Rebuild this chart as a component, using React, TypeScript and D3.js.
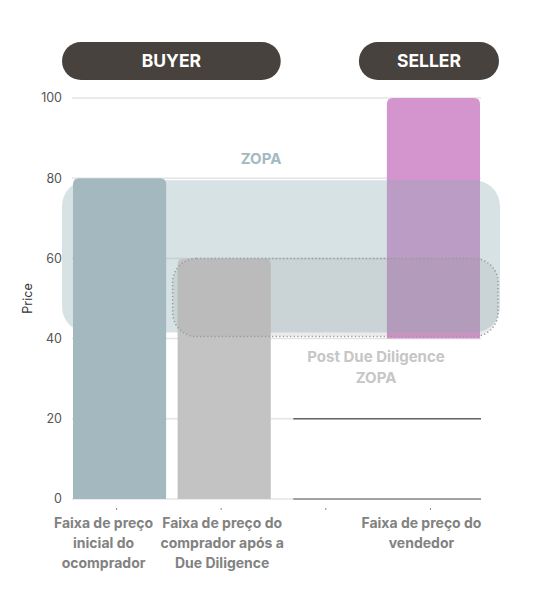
import React, { useEffect, useRef } from 'react';
import * as d3 from 'd3';

// category keys and their wrapped labels
const categories = ['inicial', 'apos', 'vazio', 'vendedor'];
const categoryLines = [
  ['Faixa de preço', 'inicial do', 'ocomprador'],
  ['Faixa de preço do', 'comprador após a', 'Due Diligence'],
  [],
  ['Faixa de preço do', 'vendedor'],
];
const labelShift = [-16, -2, 0, -12];

// floating price ranges (low, high)
const lows = [0, 0, null, 40];
const highs = [80, 60, null, 100];
const barColors = ['#a3b9bf', '#c3c3c3', 'none', '#d494ce'];

const yTicks = [0, 20, 40, 60, 80, 100];

// negotiation zones
const zopa = [42, 80];
const postZopa = [40, 60];

const groups = ['BUYER', 'SELLER'];

const W = 536;
const H = 603;

const App: React.FC = () => {
  const svgRef = useRef<SVGSVGElement>(null);

  useEffect(() => {
    if (!svgRef.current) return;
    const svg = d3.select(svgRef.current);
    svg.selectAll('*').remove();

    const x = d3.scaleBand<string>().domain(categories).range([73, 480]).paddingInner(0.11).paddingOuter(0);
    const y = d3.scaleLinear().domain([0, 100]).range([499, 98]);
    const bw = x.bandwidth();
    const font = 'Inter, "Noto Sans", sans-serif';

    // gridlines
    svg.append('g')
      .selectAll('line')
      .data(yTicks)
      .enter()
      .append('line')
      .attr('x1', 72)
      .attr('x2', 481)
      .attr('y1', d => y(d))
      .attr('y2', d => y(d))
      .attr('stroke', '#e4e4e4')
      .attr('stroke-width', 1.5);

    // dark baseline segments under the empty / seller columns
    svg.append('g')
      .selectAll('line')
      .data([0, 20])
      .enter()
      .append('line')
      .attr('x1', (x('vazio') as number) + 11)
      .attr('x2', (x('vendedor') as number) + bw + 1)
      .attr('y1', d => y(d))
      .attr('y2', d => y(d))
      .attr('stroke', (d, i) => (i === 0 ? '#8a8a8a' : '#666'))
      .attr('stroke-width', 1.5);

    // y tick labels
    svg.append('g')
      .selectAll('text')
      .data(yTicks)
      .enter()
      .append('text')
      .attr('x', 62)
      .attr('y', d => y(d))
      .attr('dy', '0.35em')
      .attr('text-anchor', 'end')
      .attr('fill', '#555')
      .style('font-family', font)
      .style('font-size', '12.5px')
      .text(d => d);

    svg.append('text')
      .attr('transform', `translate(32, ${y(50)}) rotate(-90)`)
      .attr('text-anchor', 'middle')
      .attr('fill', '#333')
      .style('font-family', font)
      .style('font-size', '12.5px')
      .text('Price');

    // bar path with rounded top corners
    const r = 6;
    const barPath = (i: number) => {
      const x0 = x(categories[i]) as number;
      const x1 = x0 + bw;
      const yt = y(highs[i] as number);
      const yb = y(lows[i] as number);
      return `M${x0},${yb}V${yt + r}Q${x0},${yt} ${x0 + r},${yt}H${x1 - r}Q${x1},${yt} ${x1},${yt + r}V${yb}Z`;
    };

    const drawBar = (i: number) => {
      svg.append('path').attr('d', barPath(i)).attr('fill', barColors[i]);
    };

    // seller bar sits under the ZOPA band
    drawBar(3);

    const zx0 = (x('inicial') as number) - 11;
    const zx1 = (x('vendedor') as number) + bw + 20;
    svg.append('rect')
      .attr('x', zx0)
      .attr('y', y(zopa[1]) + 2)
      .attr('width', zx1 - zx0)
      .attr('height', y(zopa[0]) - y(zopa[1]))
      .attr('rx', 26)
      .attr('fill', '#8aacb2')
      .attr('fill-opacity', 0.35);

    drawBar(0);
    drawBar(1);

    // post due diligence ZOPA (dotted)
    const px0 = (x('apos') as number) - 5;
    const px1 = (x('vendedor') as number) + bw + 18;
    svg.append('rect')
      .attr('x', px0)
      .attr('y', y(postZopa[1]))
      .attr('width', px1 - px0)
      .attr('height', y(postZopa[0]) - y(postZopa[1]) - 2)
      .attr('rx', 24)
      .attr('fill', '#999')
      .attr('fill-opacity', 0.2)
      .attr('stroke', '#999')
      .attr('stroke-width', 1.5)
      .attr('stroke-dasharray', '1.2,2.4');

    // zone labels
    svg.append('text')
      .attr('x', 261)
      .attr('y', y(zopa[1]) - 14)
      .attr('text-anchor', 'middle')
      .attr('fill', '#a3b9bf')
      .style('font-family', font)
      .style('font-size', '15px')
      .style('font-weight', 700)
      .text('ZOPA');

    const pdd = svg.append('text')
      .attr('x', 376)
      .attr('y', y(postZopa[0]) + 23)
      .attr('text-anchor', 'middle')
      .attr('fill', '#c6c6c6')
      .style('font-family', font)
      .style('font-size', '15px')
      .style('font-weight', 700);
    pdd.append('tspan').attr('x', 376).text('Post Due Diligence');
    pdd.append('tspan').attr('x', 376).attr('dy', 21).text('ZOPA');

    // x tick marks
    svg.append('g')
      .selectAll('line')
      .data(categories)
      .enter()
      .append('line')
      .attr('x1', d => (x(d) as number) + bw / 2 - 3)
      .attr('x2', d => (x(d) as number) + bw / 2 - 3)
      .attr('y1', 508)
      .attr('y2', 510)
      .attr('stroke', '#888')
      .attr('stroke-width', 1);

    // category labels
    categories.forEach((c, i) => {
      const cx = (x(c) as number) + bw / 2 + labelShift[i];
      const t = svg.append('text')
        .attr('text-anchor', 'middle')
        .attr('fill', '#828282')
        .style('font-family', font)
        .style('font-size', '14px')
        .style('font-weight', 700);
      categoryLines[i].forEach((line, j) => {
        t.append('tspan').attr('x', cx).attr('y', 528 + j * 20).text(line);
      });
    });

    // group pills
    const pills = [
      { x0: (x('inicial') as number) - 11, x1: (x('apos') as number) + bw + 10 },
      { x0: (x('vendedor') as number) - 28, x1: (x('vendedor') as number) + bw + 19 },
    ];
    pills.forEach((p, i) => {
      svg.append('rect')
        .attr('x', p.x0)
        .attr('y', 42)
        .attr('width', p.x1 - p.x0)
        .attr('height', 38)
        .attr('rx', 19)
        .attr('fill', '#47423d');
      svg.append('text')
        .attr('x', (p.x0 + p.x1) / 2)
        .attr('y', 61)
        .attr('dy', '0.36em')
        .attr('text-anchor', 'middle')
        .attr('fill', '#fff')
        .style('font-family', font)
        .style('font-size', '17.5px')
        .style('font-weight', 700)
        .text(groups[i]);
    });
  }, []);

  return <svg ref={svgRef} width={W} height={H} style={{ position: 'absolute', left: 0, top: 0 }} />;
};

export default App;
